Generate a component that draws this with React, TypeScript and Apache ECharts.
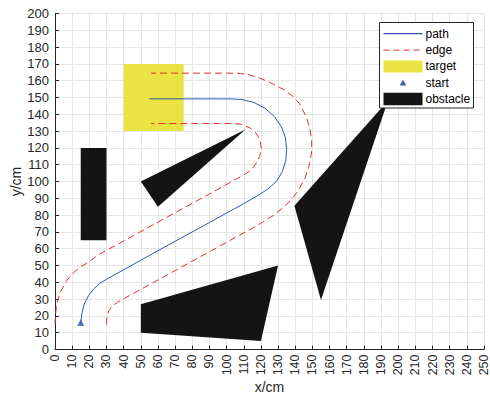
import React, { useEffect, useRef } from "react";
import * as echarts from "echarts";

const FONT = "Liberation Sans, Arial, Helvetica, sans-serif";

const xRange = [0, 250];
const yRange = [0, 200];
const tickStep = 10;

const pathPts: number[][] = [
  [15, 15], [15.6, 21], [17, 27], [19.5, 32], [22.5, 36], [26, 39.3], [30, 41.8], [33, 43.5],
  [60, 58.8], [90, 75.6], [110, 86.8], [118, 91.5], [124, 95.5], [129, 100], [132.5, 106],
  [134.5, 112.5], [135, 119], [134.3, 126], [132, 132.5], [128, 138.5], [122.5, 143.5],
  [116, 147], [109, 148.8], [102, 149.2], [55, 149.2],
];

const edgeLeftPts: number[][] = [
  [0, 15], [0.3, 21], [1.2, 28], [3.3, 34.5], [6.8, 41], [11, 46], [15.5, 49.5], [20, 52.3],
  [25, 56.2], [60, 75.8], [90, 92.6], [105, 101.1], [111, 104.5], [114.5, 107], [117.2, 110.8],
  [119.3, 115], [120.2, 119.8], [119.6, 124.5], [117.2, 128.7], [113.5, 132], [108, 134.2],
  [102, 134.5], [56, 134.5],
];

const edgeRightPts: number[][] = [
  [30, 15], [30.3, 19], [31.3, 23], [33.5, 26], [36.5, 28.2], [40, 30.2], [70, 47], [100, 63.8],
  [115, 72.2], [121, 75.8], [127, 79.6], [133, 84.5], [138, 89.5], [142, 95], [145.5, 101.5],
  [148, 109], [149.5, 117], [149.6, 124], [148.5, 132], [146, 139.5], [142.4, 146.5],
  [138.5, 150.8], [134, 154.3], [129, 157], [123.5, 159.8], [118, 162], [113, 163.6],
  [108, 164.3], [102, 164.5], [56, 164.5],
];

const startPt: number[] = [15, 16];

const targetPolys: number[][][] = [
  [[40, 130], [75, 130], [75, 170], [40, 170]],
];

const obstaclePolys: number[][][] = [
  [[15, 65], [30, 65], [30, 120], [15, 120]],
  [[50, 100], [111, 131], [60, 85]],
  [[50, 27], [130, 50], [120, 5], [50, 10]],
  [[139.5, 85.5], [194, 148], [155, 29.5]],
];

const legendNames = ["path", "edge", "target", "start", "obstacle"];

const BLUE = "#3356b3";
const RED = "#e0332e";
const YELLOW = "#e9e343";
const BLACK = "#141414";
const AXIS = "#262626";
const GRID = "#e6e6e6";

function polySeries(name: string, polys: number[][][], color: string, z: number) {
  return {
    type: "custom",
    name,
    z,
    itemStyle: { color },
    data: polys.map((p) => p[0]),
    encode: { x: 0, y: 1 },
    renderItem: (params: any, api: any) => {
      const pts = polys[params.dataIndex].map((p) => api.coord(p));
      return { type: "polygon", shape: { points: pts }, style: { fill: color } };
    },
  };
}

function axisCommon() {
  return {
    axisLine: { show: true, lineStyle: { color: AXIS, width: 1 } },
    axisTick: { show: true, inside: true, length: 4, lineStyle: { color: AXIS } },
    splitLine: { show: true, lineStyle: { color: GRID, width: 1 } },
    nameMoveOverlap: false,
    nameTextStyle: { fontFamily: FONT, fontSize: 14, color: AXIS },
  };
}

function legendGraphic() {
  const bx = 379.5, by = 22.5, bw = 94, bh = 85.5;
  const sx = 383.5, sw = 39, tx = 425.5;
  const rows = [33.7, 50.1, 66.4, 82.7, 99];
  const Z = 100;
  const kids: any[] = [
    { type: "rect", z: Z, shape: { x: bx, y: by, width: bw, height: bh }, style: { fill: "#fff", stroke: AXIS, lineWidth: 1 } },
    { type: "line", z: Z + 1, shape: { x1: sx, y1: rows[0], x2: sx + sw, y2: rows[0] }, style: { stroke: BLUE, lineWidth: 1.2 } },
    { type: "line", z: Z + 1, shape: { x1: sx, y1: rows[1], x2: sx + sw, y2: rows[1] }, style: { stroke: RED, lineWidth: 1, lineDash: [6, 4] } },
    { type: "rect", z: Z + 1, shape: { x: sx, y: rows[2] - 6, width: sw, height: 12 }, style: { fill: YELLOW } },
    { type: "polygon", z: Z + 1, shape: { points: [[sx + sw / 2 - 3.2, rows[3] + 2.8], [sx + sw / 2 + 3.2, rows[3] + 2.8], [sx + sw / 2, rows[3] - 3]] }, style: { fill: BLUE } },
    { type: "rect", z: Z + 1, shape: { x: sx, y: rows[4] - 6.3, width: sw, height: 12.6 }, style: { fill: BLACK } },
  ];
  legendNames.forEach((n, i) => {
    kids.push({
      type: "text",
      z: Z + 1,
      x: tx,
      y: rows[i],
      style: { text: n, fontSize: 12, fontFamily: FONT, fill: "#000", verticalAlign: "middle", align: "left" },
    });
  });
  return [{ type: "group", z: Z, children: kids }];
}

export default function App() {
  const ref = useRef<HTMLDivElement>(null);
  useEffect(() => {
    if (!ref.current) return;
    const chart = echarts.init(ref.current, null, { renderer: "svg" });
    chart.setOption({
      animation: false,
      backgroundColor: "#fff",
      grid: { left: 55, right: 6, top: 13.5, bottom: 51.5, containLabel: false, outerBoundsMode: "none" },
      xAxis: {
        type: "value",
        min: xRange[0],
        max: xRange[1],
        interval: tickStep,
        name: "x/cm",
        nameLocation: "middle",
        nameGap: 30,
        ...axisCommon(),
        axisLabel: { rotate: 90, margin: 5, fontSize: 12.5, lineHeight: 10, fontFamily: FONT, color: AXIS },
      },
      yAxis: {
        type: "value",
        min: yRange[0],
        max: yRange[1],
        interval: tickStep,
        name: "y/cm",
        nameLocation: "middle",
        nameGap: 32,
        ...axisCommon(),
        axisLabel: { margin: 6, fontSize: 13, fontFamily: FONT, color: AXIS },
      },
      graphic: legendGraphic(),
      series: [
        polySeries("target", targetPolys, YELLOW, 1),
        polySeries("obstacle", obstaclePolys, BLACK, 2),
        {
          type: "line",
          name: "path",
          z: 3,
          data: pathPts,
          symbol: "none",
          lineStyle: { color: BLUE, width: 1 },
          itemStyle: { color: BLUE },
        },
        {
          type: "line",
          name: "edge",
          z: 3,
          data: edgeLeftPts,
          symbol: "none",
          lineStyle: { color: RED, width: 1, type: [7, 4] },
          itemStyle: { color: RED },
        },
        {
          type: "line",
          name: "edge",
          z: 3,
          data: edgeRightPts,
          symbol: "none",
          lineStyle: { color: RED, width: 1, type: [7, 4] },
          itemStyle: { color: RED },
        },
        {
          type: "scatter",
          name: "start",
          z: 4,
          data: [startPt],
          symbol: "triangle",
          symbolSize: 7,
          itemStyle: { color: BLUE },
        },
      ],
    });
    return () => chart.dispose();
  }, []);
  return (
    <div
      ref={ref}
      style={{ position: "absolute", left: 0, top: 0, width: 490, height: 401 }}
    />
  );
}
